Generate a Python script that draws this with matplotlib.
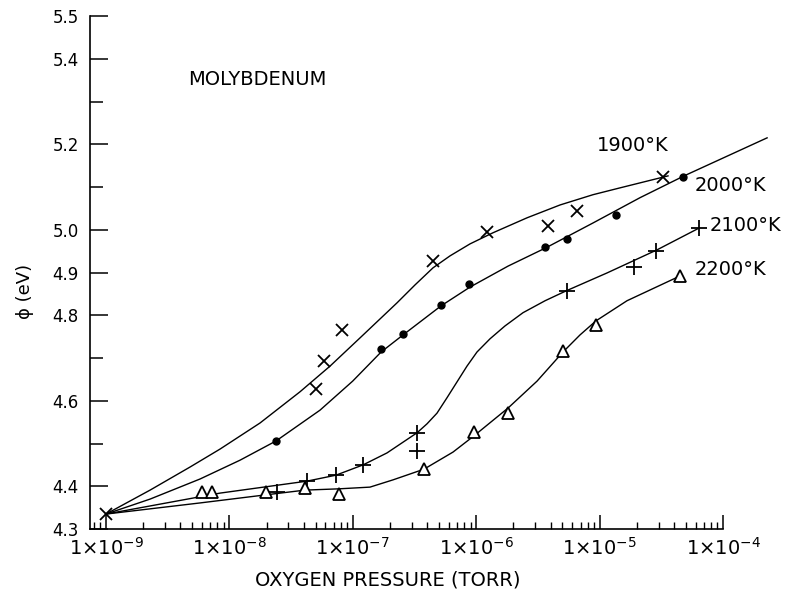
import numpy as np
import matplotlib
matplotlib.use('Agg')
import matplotlib.pyplot as plt
from matplotlib.ticker import FixedLocator, LogLocator, NullFormatter

# log10 of oxygen pressure (torr) and work function (eV)
start_logp = [-9.0]
start_phi = [4.335]

# 1900 K  (x)
logp_1900 = [-7.30, -7.23, -7.09, -6.35, -5.91, -5.42, -5.18, -4.49]
phi_1900 = [4.628, 4.693, 4.766, 4.927, 4.995, 5.009, 5.044, 5.124]
curve_logp_1900 = [-9.0, -8.643, -8.319, -8.076, -7.752, -7.428, -7.185, -6.942, -6.642,
                   -6.496, -6.350, -6.212, -6.050, -5.864, -5.588, -5.321, -5.054, -4.835, -4.446]
curve_phi_1900 = [4.335, 4.391, 4.445, 4.487, 4.548, 4.621, 4.681, 4.747, 4.829,
                  4.871, 4.911, 4.939, 4.967, 4.993, 5.028, 5.058, 5.082, 5.098, 5.126]

# 2000 K  (dots)
logp_2000 = [-7.622, -6.771, -6.593, -6.285, -6.058, -5.442, -5.264, -4.867, -4.324]
phi_2000 = [4.506, 4.721, 4.756, 4.824, 4.873, 4.960, 4.979, 5.035, 5.124]
curve_logp_2000 = [-9.0, -8.643, -8.238, -7.914, -7.622, -7.266, -7.001, -6.771, -6.593,
                   -6.285, -6.050, -5.742, -5.434, -5.053, -4.673, -4.316, -3.643]
curve_phi_2000 = [4.335, 4.370, 4.417, 4.461, 4.506, 4.578, 4.646, 4.714, 4.754,
                  4.822, 4.866, 4.915, 4.958, 5.016, 5.075, 5.126, 5.215]

# 2100 K  (+)
logp_2100 = [-7.614, -7.371, -7.136, -6.917, -6.480, -6.480, -5.264, -4.721, -4.543, -4.194]
phi_2100 = [4.387, 4.412, 4.426, 4.450, 4.525, 4.483, 4.857, 4.913, 4.951, 5.004]
curve_logp_2100 = [-9.0, -8.076, -7.371, -7.136, -6.917, -6.723, -6.480, -6.399, -6.318,
                   -6.237, -6.156, -6.075, -5.994, -5.888, -5.767, -5.621, -5.442, -5.272,
                   -4.940, -4.535, -4.194]
curve_phi_2100 = [4.335, 4.384, 4.412, 4.426, 4.450, 4.478, 4.525, 4.546, 4.571,
                  4.607, 4.644, 4.681, 4.714, 4.745, 4.775, 4.806, 4.834, 4.857,
                  4.899, 4.953, 5.004]

# 2200 K  (triangles)
logp_2200 = [-8.222, -8.141, -7.703, -7.387, -7.112, -6.423, -6.018, -5.742, -5.297, -5.029, -4.348]
phi_2200 = [4.387, 4.387, 4.387, 4.396, 4.382, 4.440, 4.527, 4.571, 4.717, 4.777, 4.892]
curve_logp_2200 = [-9.0, -8.238, -7.703, -7.387, -7.112, -6.861, -6.674, -6.423, -6.188,
                   -6.018, -5.742, -5.507, -5.297, -5.159, -5.029, -4.778, -4.348]
curve_phi_2200 = [4.335, 4.361, 4.380, 4.391, 4.394, 4.398, 4.415, 4.440, 4.480,
                  4.518, 4.583, 4.646, 4.714, 4.754, 4.787, 4.834, 4.892]

temp_labels = ['1900°K', '2000°K', '2100°K', '2200°K']
temp_label_pos = [(-5.02, 5.196), (-4.227, 5.103), (-4.105, 5.009), (-4.227, 4.908)]

ytick_major = [4.3, 4.4, 4.6, 4.8, 4.9, 5.0, 5.2, 5.4, 5.5]
ytick_minor = [4.5, 4.7, 5.1, 5.3]
xtick_exp = [-9, -8, -7, -6, -5, -4]


def p(v):
    return 10.0 ** np.asarray(v)


fig = plt.figure(figsize=(7.89, 5.93), dpi=100)
ax = fig.add_axes([0.1141, 0.1079, 0.8023, 0.8651])

lw = 1.0
for cx, cy in [(curve_logp_1900, curve_phi_1900), (curve_logp_2000, curve_phi_2000),
               (curve_logp_2100, curve_phi_2100), (curve_logp_2200, curve_phi_2200)]:
    ax.plot(p(cx), cy, color='black', lw=lw, clip_on=False, zorder=2,
            solid_joinstyle='round')

ax.plot(p(start_logp + logp_1900), start_phi + phi_1900, ls='none', marker='x',
        ms=9, mew=1.3, color='black', zorder=3)
ax.plot(p(logp_2000), phi_2000, ls='none', marker='o', ms=5, color='black', zorder=3)
ax.plot(p(logp_2100), phi_2100, ls='none', marker='+', ms=11, mew=1.3, color='black', zorder=3)
ax.plot(p(logp_2200), phi_2200, ls='none', marker='^', ms=8, mew=1.3, mfc='white',
        mec='black', zorder=3)

ax.set_xscale('log')
ax.set_xlim(7.42e-10, 1e-4)
ax.set_ylim(4.3, 5.5)

ax.spines['top'].set_visible(False)
ax.spines['right'].set_visible(False)
ax.spines['left'].set_linewidth(1.2)
ax.spines['bottom'].set_linewidth(1.2)

ax.yaxis.set_major_locator(FixedLocator(ytick_major))
ax.yaxis.set_minor_locator(FixedLocator(ytick_minor))
ax.set_yticklabels(['%.1f' % v for v in ytick_major])
ax.tick_params(axis='y', which='major', direction='in', length=13, width=1.1,
               labelsize=12, pad=8)
ax.tick_params(axis='y', which='minor', direction='in', length=9, width=1.1)

ax.xaxis.set_major_locator(FixedLocator(p(xtick_exp)))
ax.set_xticklabels([r'$\mathregular{1{\times}10^{%d}}$' % e for e in xtick_exp])
ax.xaxis.set_minor_locator(LogLocator(base=10, subs=np.arange(2, 10)))
ax.xaxis.set_minor_formatter(NullFormatter())
ax.tick_params(axis='x', which='major', direction='in', length=10, width=1.1,
               labelsize=14, pad=6)
ax.tick_params(axis='x', which='minor', direction='in', length=5, width=1.0)

ax.text(0.155, 0.865, 'MOLYBDENUM', transform=ax.transAxes, fontsize=14)
for lab, (lx, ly) in zip(temp_labels, temp_label_pos):
    ax.text(p(lx), ly, lab, fontsize=14, ha='left', va='center', clip_on=False)

fig.text(0.492, 0.022, 'OXYGEN PRESSURE (TORR)', ha='center', va='center', fontsize=14)
fig.text(0.032, 0.508, 'ϕ (eV)', rotation=90, ha='center', va='center', fontsize=13)

fig.savefig('out.png', dpi=100)
